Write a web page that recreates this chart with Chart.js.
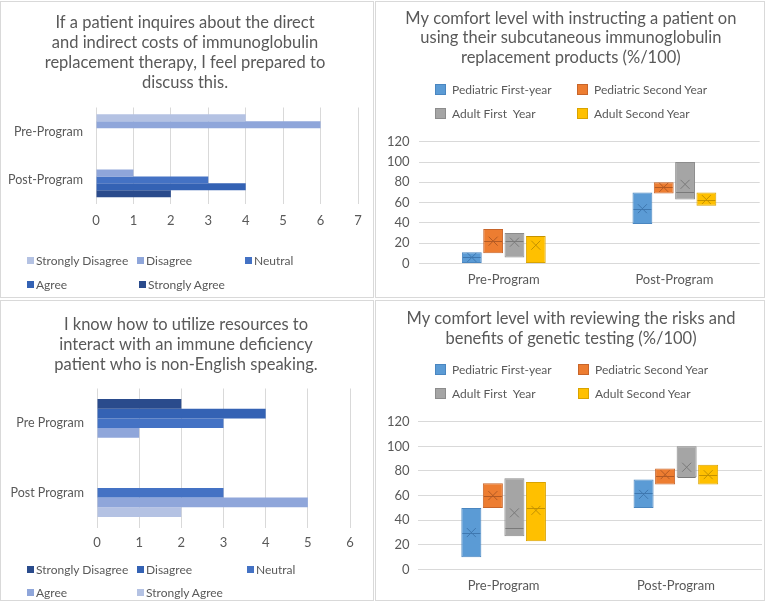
<!DOCTYPE html>
<html>
<head>
<meta charset="utf-8">
<script src="https://cdn.jsdelivr.net/npm/chart.js@4.4.0/dist/chart.umd.min.js"></script>
<style>
html,body{margin:0;padding:0;background:#fff;}
body{width:766px;height:601px;position:relative;overflow:hidden;font-family:Lato,"Open Sans",sans-serif;}
.panel{position:absolute;box-sizing:border-box;border:1px solid #d9d9d9;}
canvas{position:absolute;}
.li{position:absolute;display:flex;align-items:center;height:16px;font-size:12px;color:#595959;white-space:pre;}
.sw{display:inline-block;box-sizing:border-box;}
</style>
</head>
<body>
<div class="panel" style="left:0;top:1px;width:374px;height:297px"></div>
<div class="panel" style="left:375px;top:1px;width:390px;height:297px"></div>
<div class="panel" style="left:0;top:300px;width:374px;height:301px"></div>
<div class="panel" style="left:375px;top:300px;width:390px;height:301px"></div>
<canvas id="tl" width="373" height="295" style="left:0;top:2px"></canvas>
<canvas id="tr" width="389" height="295" style="left:375px;top:2px"></canvas>
<canvas id="bl" width="373" height="300" style="left:0;top:301px"></canvas>
<canvas id="br" width="389" height="300" style="left:375px;top:301px"></canvas>
<div id="legends"></div>
<script>
// ---------- DATA ----------
// Top-left: costs of immunoglobulin replacement therapy
const costCategories = ['Pre-Program', 'Post-Program'];
const costSeries = ['Strongly Disagree', 'Disagree', 'Neutral', 'Agree', 'Strongly Agree'];
const costStronglyDisagree = [4, 0];
const costDisagree = [6, 1];
const costNeutral = [0, 3];
const costAgree = [0, 4];
const costStronglyAgree = [0, 2];
const costTicks = [0, 1, 2, 3, 4, 5, 6, 7];

// Bottom-left: non-English speaking patient resources
const langCategories = ['Pre Program', 'Post Program'];
const langSeries = ['Strongly Disagree', 'Disagree', 'Neutral', 'Agree', 'Strongly Agree'];
const langStronglyDisagree = [2, 0];
const langDisagree = [4, 0];
const langNeutral = [3, 3];
const langAgree = [1, 5];
const langStronglyAgree = [0, 2];
const langTicks = [0, 1, 2, 3, 4, 5, 6];

// Right: box charts (%/100)
const boxCategories = ['Pre-Program', 'Post-Program'];
const boxGroups = ['Pediatric First-year', 'Pediatric Second Year', 'Adult First  Year', 'Adult Second Year'];
const pctTicks = [0, 20, 40, 60, 80, 100, 120];

// Top-right: instructing on subcutaneous immunoglobulin
const scigPedFirstLow = [0, 39];
const scigPedFirstHigh = [11, 70];
const scigPedFirstMedian = [6, 54];
const scigPedFirstMean = [6, 54];
const scigPedSecondLow = [10, 69];
const scigPedSecondHigh = [34, 80];
const scigPedSecondMedian = [22, 75];
const scigPedSecondMean = [22, 75];
const scigAdultFirstLow = [6, 63];
const scigAdultFirstHigh = [30, 100];
const scigAdultFirstMedian = [22, 70];
const scigAdultFirstMean = [21, 78];
const scigAdultSecondLow = [0, 57];
const scigAdultSecondHigh = [27, 70];
const scigAdultSecondMedian = [27, 63];
const scigAdultSecondMean = [18, 63];

// Bottom-right: genetic testing
const genPedFirstLow = [10, 50];
const genPedFirstHigh = [50, 73];
const genPedFirstMedian = [30, 62];
const genPedFirstMean = [30, 61];
const genPedSecondLow = [50, 69];
const genPedSecondHigh = [70, 82];
const genPedSecondMedian = [60, 76];
const genPedSecondMean = [60, 77];
const genAdultFirstLow = [27, 75];
const genAdultFirstHigh = [74, 100];
const genAdultFirstMedian = [34, 75];
const genAdultFirstMean = [46, 83];
const genAdultSecondLow = [23, 69];
const genAdultSecondHigh = [71, 85];
const genAdultSecondMedian = [50, 77];
const genAdultSecondMean = [48, 77];

// ---------- STYLE ----------
const costColors = ['#b4c2e3', '#8fa6da', '#4472c4', '#3462b4', '#2a4b8c'];
const langColors = ['#2a4b8c', '#3462b4', '#4472c4', '#8fa6da', '#b4c2e3'];
const boxFill = ['#5b9bd5', '#ed7d31', '#a5a5a5', '#ffc000'];
const boxEdge = ['#4a86c0', '#c8652a', '#8c8c8c', '#d9a300'];
const boxMark = ['#3f78b0', '#b35a24', '#7a7a7a', '#c49200'];

Chart.defaults.font.family = "Lato, 'Open Sans', sans-serif";
Chart.defaults.color = '#595959';
Chart.defaults.animation = false;

const pair = (lo, hi) => lo.map((v, i) => [v, hi[i]]);

// let category labels extend into the layout padding (no clipping to the axis box)
const unclipLabels = {
  id: 'unclipLabels',
  afterLayout(chart) { chart.scales.y._computeLabelArea = () => undefined; }
};

function hbar(id, cats, names, values, colors, ticks, title, L) {
  new Chart(document.getElementById(id), {
    type: 'bar',
    data: {
      labels: cats,
      datasets: names.map((n, i) => ({
        label: n, data: values[i], backgroundColor: colors[i], borderWidth: 0,
        categoryPercentage: L.cp, barPercentage: 1
      }))
    },
    plugins: [unclipLabels],
    options: {
      indexAxis: 'y', responsive: false,
      layout: {padding: {left: L.padL, right: L.right, top: 0, bottom: L.bottom}},
      plugins: {
        legend: {display: false}, tooltip: {enabled: false},
        title: {display: true, text: title, color: '#595959',
          font: {size: 16.5, weight: 'normal', lineHeight: '20px'},
          padding: {top: L.tTop, bottom: L.tBottom}}
      },
      scales: {
        x: {min: ticks[0], max: ticks[ticks.length - 1],
          ticks: {stepSize: 1, font: {size: 13}, padding: L.xPad, color: '#595959'},
          grid: {color: '#d9d9d9', drawTicks: false}, border: {display: false},
          afterFit: s => { s.height = 30; }},
        y: {grid: {display: false, drawTicks: false}, border: {display: false},
          ticks: {font: {size: 12.5}, padding: 13, color: '#595959'},
          afterFit: s => { s.width = L.left; }}
      }
    }
  });
}

const boxMarks = {
  id: 'boxMarks',
  afterDatasetsDraw(chart) {
    const ctx = chart.ctx, ys = chart.scales.y;
    chart.data.datasets.forEach((ds, i) => {
      const meta = chart.getDatasetMeta(i);
      meta.data.forEach((bar, j) => {
        const half = bar.width / 2;
        ctx.save();
        ctx.strokeStyle = ds.markColor; ctx.lineWidth = 1;
        const my = Math.round(ys.getPixelForValue(ds.medians[j])) + 0.5;
        ctx.beginPath(); ctx.moveTo(bar.x - half + 1, my); ctx.lineTo(bar.x + half - 1, my); ctx.stroke();
        const ey = ys.getPixelForValue(ds.means[j]), s = 4.5;
        ctx.beginPath();
        ctx.moveTo(bar.x - s, ey - s); ctx.lineTo(bar.x + s, ey + s);
        ctx.moveTo(bar.x + s, ey - s); ctx.lineTo(bar.x - s, ey + s);
        ctx.stroke();
        ctx.restore();
      });
    });
  }
};

function boxChart(id, lows, highs, medians, means, title, L) {
  new Chart(document.getElementById(id), {
    type: 'bar',
    data: {
      labels: boxCategories,
      datasets: boxGroups.map((g, i) => ({
        label: g, data: pair(lows[i], highs[i]), medians: medians[i], means: means[i],
        markColor: boxMark[i], backgroundColor: boxFill[i], borderColor: boxEdge[i],
        borderWidth: 1, borderSkipped: false, categoryPercentage: 0.5, barPercentage: 0.93
      }))
    },
    plugins: [boxMarks, unclipLabels],
    options: {
      responsive: false,
      layout: {padding: {left: L.padL, right: L.right, top: 0, bottom: L.bottom}},
      plugins: {
        legend: {display: false}, tooltip: {enabled: false},
        title: {display: true, text: title, color: '#595959',
          font: {size: 16.5, weight: 'normal', lineHeight: L.lh},
          padding: {top: L.tTop, bottom: L.tBottom}}
      },
      scales: {
        x: {grid: {display: false, drawTicks: false}, border: {display: false},
          ticks: {font: {size: 13}, padding: L.xPad, color: '#595959', maxRotation: 0},
          afterFit: s => { s.height = 30; }},
        y: {min: pctTicks[0], max: pctTicks[pctTicks.length - 1], stacked: false,
          ticks: {stepSize: 20, font: {size: 13}, padding: L.yPad, color: '#595959'},
          grid: {color: '#d9d9d9', drawTicks: false}, border: {display: false},
          afterFit: s => { s.width = L.left; }}
      }
    }
  });
}

hbar('tl', costCategories, costSeries,
  [costStronglyDisagree, costDisagree, costNeutral, costAgree, costStronglyAgree],
  costColors, costTicks,
  ['If a patient inquires about the direct', 'and indirect costs of immunoglobulin',
   'replacement therapy, I feel prepared to', 'discuss this.'],
  {padL: 12, left: 84, right: 15, bottom: 63, tTop: 11, tBottom: 14.5, xPad: 9, cp: 0.725});

hbar('bl', langCategories, langSeries,
  [langStronglyDisagree, langDisagree, langNeutral, langAgree, langStronglyAgree],
  langColors, langTicks,
  ['I know how to utilize resources to', 'interact with an immune deficiency',
   'patient who is non-English speaking.'],
  {padL: 22, left: 75, right: 23, bottom: 43.5, tTop: 14, tBottom: 13.5, xPad: 8, cp: 0.7});

boxChart('tr',
  [scigPedFirstLow, scigPedSecondLow, scigAdultFirstLow, scigAdultSecondLow],
  [scigPedFirstHigh, scigPedSecondHigh, scigAdultFirstHigh, scigAdultSecondHigh],
  [scigPedFirstMedian, scigPedSecondMedian, scigAdultFirstMedian, scigAdultSecondMedian],
  [scigPedFirstMean, scigPedSecondMean, scigAdultFirstMean, scigAdultSecondMean],
  ['My comfort level with instructing a patient on', 'using their subcutaneous immunoglobulin',
   'replacement products (%/100)'],
  {padL: 7, left: 36.5, right: 4.3, bottom: 3.5, tTop: 6.5, tBottom: 74.7, lh: '19.5px', xPad: 9, yPad: 9});

boxChart('br',
  [genPedFirstLow, genPedSecondLow, genAdultFirstLow, genAdultSecondLow],
  [genPedFirstHigh, genPedSecondHigh, genAdultFirstHigh, genAdultSecondHigh],
  [genPedFirstMedian, genPedSecondMedian, genAdultFirstMedian, genAdultSecondMedian],
  [genPedFirstMean, genPedSecondMean, genAdultFirstMean, genAdultSecondMean],
  ['My comfort level with reviewing the risks and', 'benefits of genetic testing (%/100)'],
  {padL: 5, left: 37.5, right: 2, bottom: 1.5, tTop: 7.3, tBottom: 73.4, lh: '20px', xPad: 9, yPad: 8});

// ---------- HTML legends ----------
const legendRoot = document.getElementById('legends');
function legend(names, fills, edges, pos, box, gap) {
  names.forEach((n, i) => {
    const d = document.createElement('div');
    d.className = 'li';
    d.style.left = pos[i][0] + 'px';
    d.style.top = (pos[i][1] - 8) + 'px';
    const sw = document.createElement('span');
    sw.className = 'sw';
    sw.style.width = box + 'px'; sw.style.height = box + 'px';
    sw.style.background = fills[i];
    if (edges) sw.style.border = '1px solid ' + edges[i];
    sw.style.marginRight = gap + 'px';
    d.appendChild(sw);
    d.appendChild(document.createTextNode(n));
    legendRoot.appendChild(d);
  });
}
legend(costSeries, costColors, null, [[27, 260], [137, 260], [245, 260], [27, 284], [139, 284]], 7, 2);
legend(langSeries, langColors, null, [[27, 569], [137, 569], [247, 569], [27, 592], [137, 592]], 7, 2);
legend(boxGroups, boxFill, boxEdge, [[435, 89], [577, 89], [435, 113], [577, 113]], 11, 6);
legend(boxGroups, boxFill, boxEdge, [[435, 369], [578, 369], [435, 393], [578, 393]], 11, 6);
</script>
</body>
</html>
